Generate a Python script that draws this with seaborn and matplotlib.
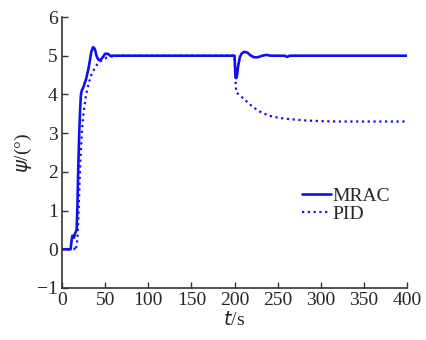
import pandas as pd
import matplotlib.pyplot as plt
import seaborn as sns

# MRAC response
t_mrac = [0, 10, 11, 12, 14, 15, 17, 18, 19, 20, 21, 22, 23, 25, 28, 31, 34, 36, 38, 40,
          42, 44, 47, 50, 53, 56, 60, 65, 70, 200, 200.5, 201, 202, 203, 204, 206, 208,
          211, 215, 219, 223, 227, 232, 237, 242, 250, 258, 261, 264, 270, 400]
psi_mrac = [0, 0, 0.2, 0.35, 0.3, 0.4, 0.5, 1.2, 2.2, 3.0, 3.6, 4.0, 4.1, 4.2, 4.4, 4.7,
            5.1, 5.22, 5.18, 5.0, 4.9, 4.88, 4.95, 5.05, 5.05, 5.0, 5.0, 5.0, 5.0, 5.0,
            4.8, 4.5, 4.42, 4.5, 4.7, 4.95, 5.05, 5.1, 5.08, 5.0, 4.96, 4.96, 5.0, 5.02,
            5.0, 5.0, 5.0, 4.97, 5.0, 5.0, 5.0]

# PID response
t_pid = [0, 14, 15, 16, 17, 18, 19, 20, 21, 22, 23, 24, 26, 28, 30, 33, 36, 40, 44, 48,
         52, 56, 60, 65, 70, 200, 201, 202, 205, 210, 215, 220, 225, 230, 235, 240, 250,
         260, 270, 280, 290, 300, 320, 340, 400]
psi_pid = [0, 0, 0.05, 0.0, 0.1, 0.3, 0.8, 1.5, 2.1, 2.6, 3.0, 3.3, 3.7, 4.0, 4.2, 4.45,
           4.6, 4.75, 4.85, 4.9, 4.95, 4.97, 4.99, 5.0, 5.0, 5.0, 4.4, 4.05, 4.0, 3.9, 3.8,
           3.7, 3.62, 3.55, 3.5, 3.45, 3.4, 3.37, 3.35, 3.33, 3.32, 3.31, 3.3, 3.3, 3.3]

x_ticks = [0, 50, 100, 150, 200, 250, 300, 350, 400]
y_ticks = [-1, 0, 1, 2, 3, 4, 5, 6]

df_mrac = pd.DataFrame({'t': t_mrac, 'psi': psi_mrac})
df_pid = pd.DataFrame({'t': t_pid, 'psi': psi_pid})

sns.set_style("ticks")
plt.rcParams['font.family'] = ['Liberation Serif', 'DejaVu Serif']
plt.rcParams['xtick.direction'] = 'in'
plt.rcParams['ytick.direction'] = 'in'

fig = plt.figure(figsize=(4.26, 3.4), dpi=100)
ax = fig.add_axes([0.1455, 0.153, 0.81, 0.797])

sns.lineplot(data=df_mrac, x='t', y='psi', ax=ax, color='#1010ee', lw=1.9,
             label='MRAC', estimator=None, sort=False)
sns.lineplot(data=df_pid, x='t', y='psi', ax=ax, color='#1010ee', lw=1.6,
             linestyle=(0, (1, 1.6)), label='PID', estimator=None, sort=False)

ax.set_xlim(0, 400)
ax.set_ylim(-1, 6)
ax.set_xticks(x_ticks)
ax.set_yticks(y_ticks)
ax.set_yticklabels(['\u22121' if v == -1 else str(v) for v in y_ticks])
ax.tick_params(labelsize=14, length=4, width=1, color='#333333', pad=3)
ax.set_xlabel(r'$\it{t}$/s', fontsize=14, labelpad=1)
ax.set_ylabel(r'$\it{\psi}$/(°)', fontsize=14, labelpad=2)
sns.despine(ax=ax)
for s in ['left', 'bottom']:
    ax.spines[s].set_linewidth(1.2)
    ax.spines[s].set_color('#333333')

ax.legend(loc='center left', bbox_to_anchor=(0.695, 0.306), frameon=False, fontsize=14,
          handlelength=1.5, handletextpad=0.05, labelspacing=0.0, borderaxespad=0,
          borderpad=0)

fig.savefig('out.png', dpi=100)
